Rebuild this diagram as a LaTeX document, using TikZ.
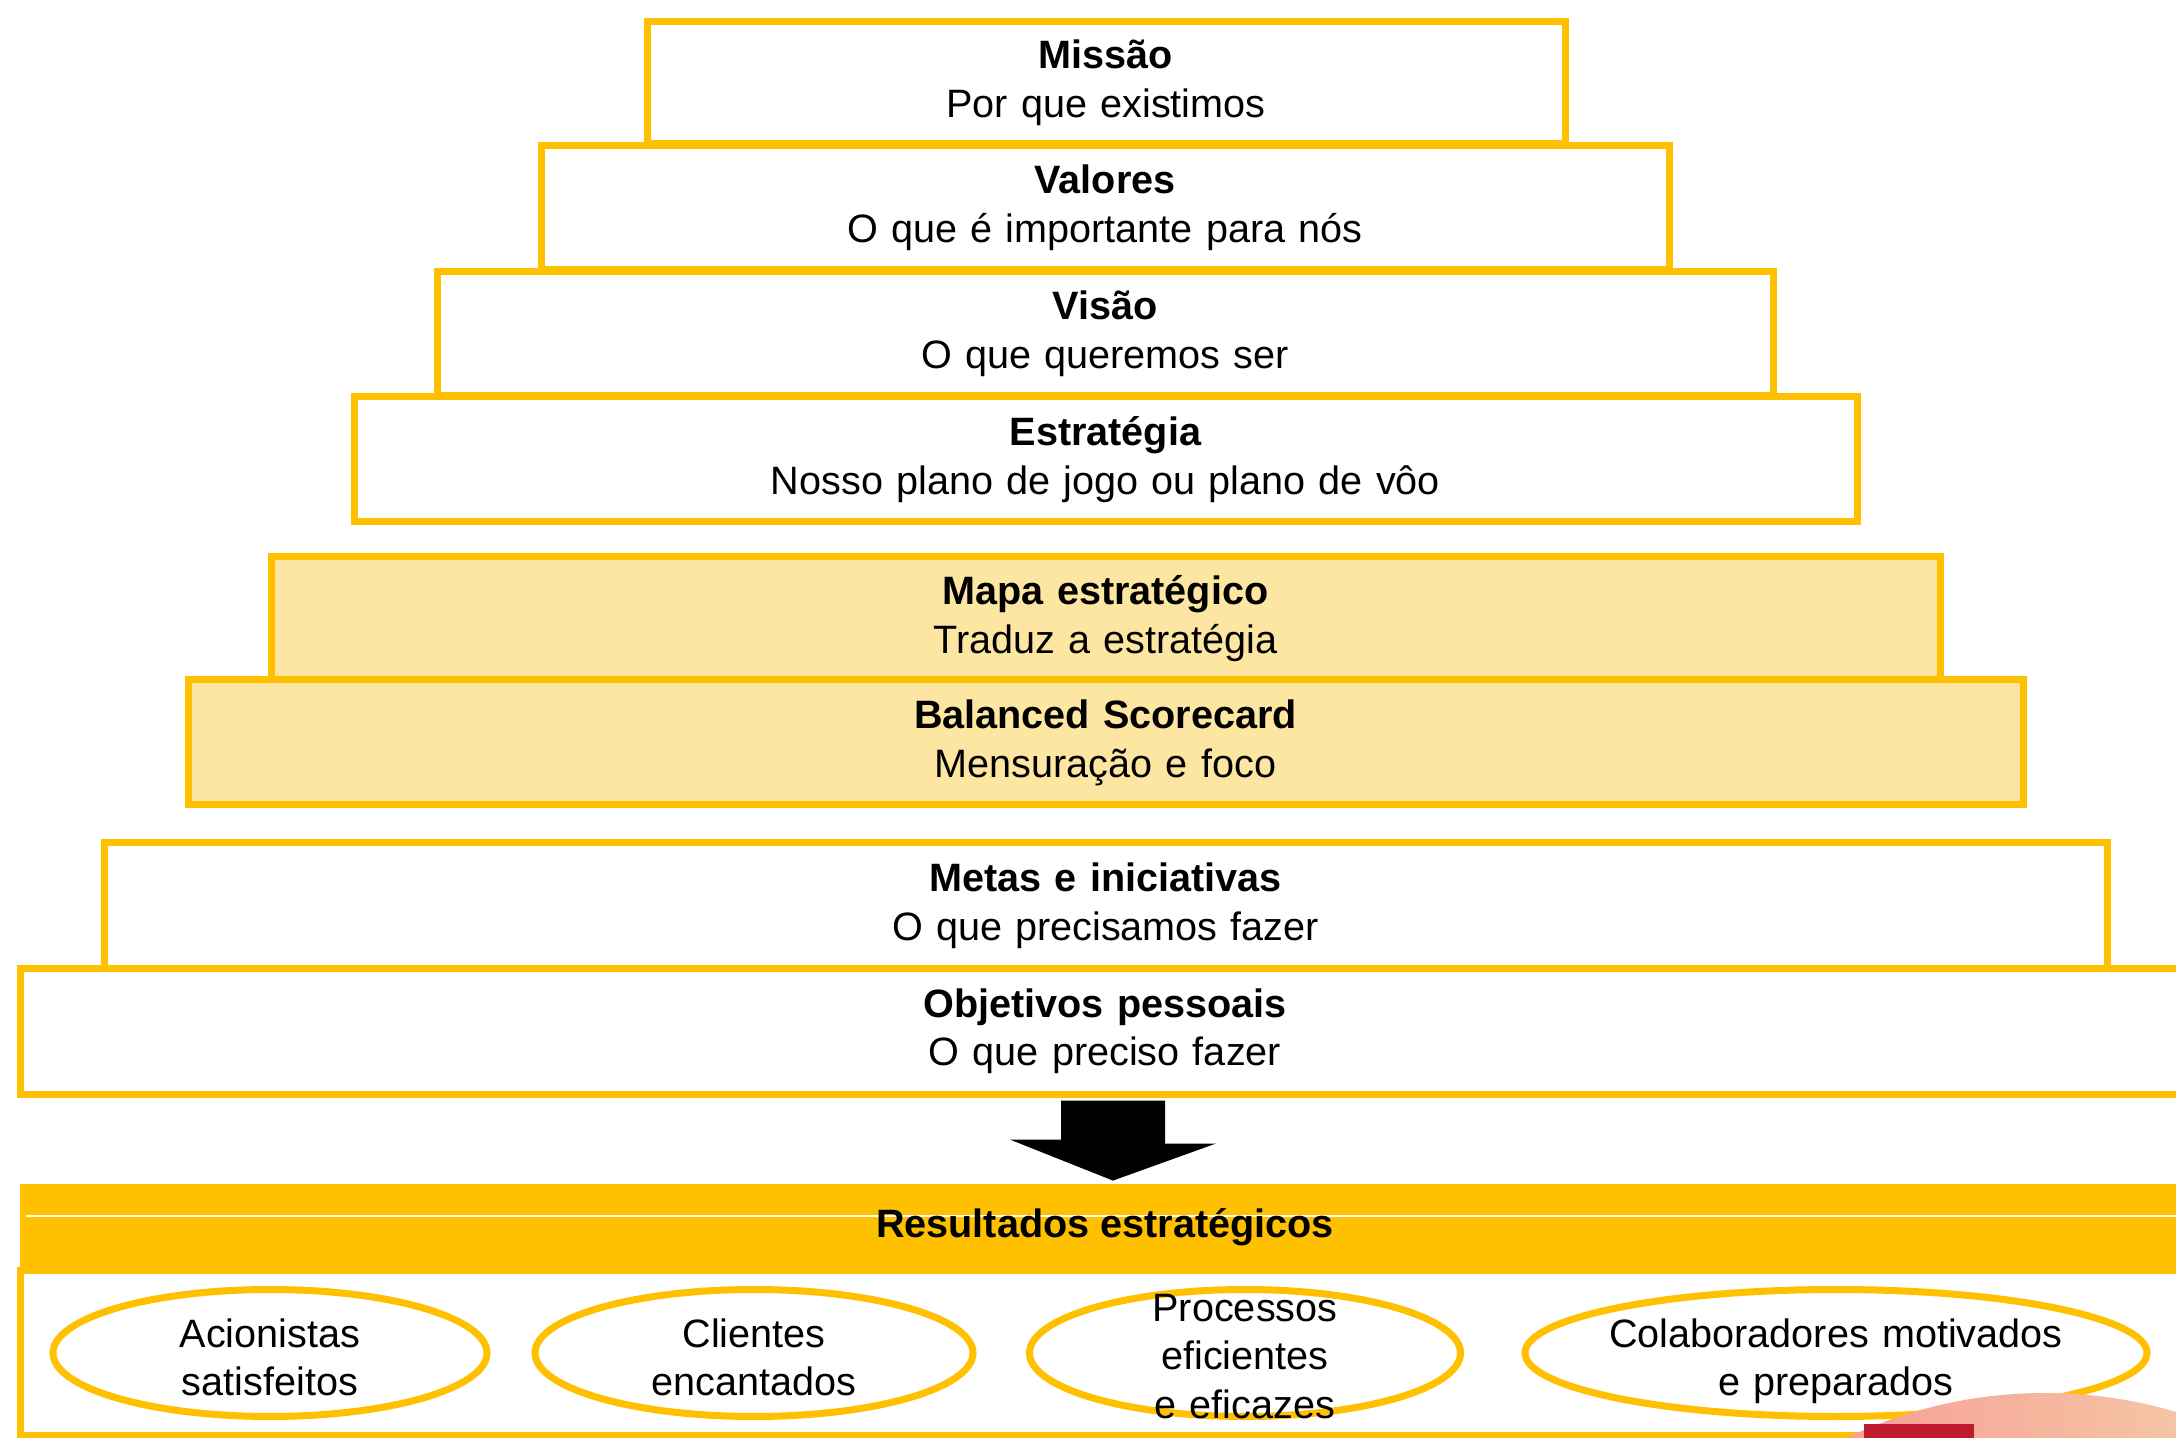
\documentclass[tikz,border=0pt]{standalone}
\usepackage{fontspec}
\setmainfont{Liberation Sans}
\usetikzlibrary{calc}
\definecolor{ygold}{HTML}{FFC000}
\definecolor{ylight}{HTML}{FDE6A1}
\definecolor{salmonA}{HTML}{F6A092}
\definecolor{peachB}{HTML}{F5C4A6}
\definecolor{redsq}{HTML}{BE1C2D}
\begin{document}
\begin{tikzpicture}[x=0.5pt,y=-0.5pt,
  font=\fontsize{19.8pt}{24.3pt}\selectfont,
  tier/.style={draw=ygold, line width=3.5pt, fill=white, inner sep=0pt,
    text width=400pt, align=center, text height=14pt, text depth=28pt},
  tierfill/.style={tier, fill=ylight},
  oval/.style={draw=ygold, line width=3.5pt},
  ovaltext/.style={inner sep=0pt, text width=250pt, align=center,
    text height=14pt, text depth=20pt},
]
\clip (0,0) rectangle (2176,1438);
\fill[white] (0,0) rectangle (2176,1438);

% pyramid tiers
\node[tier, minimum width=459pt, minimum height=61pt] (missao) at (1106,83)
  {\textbf{Missão}\\Por que existimos};
\node[tier, minimum width=564pt, minimum height=62pt] (valores) at (1105,208)
  {\textbf{Valores}\\O que é importante para nós};
\node[tier, minimum width=668pt, minimum height=62pt] (visao) at (1105,334)
  {\textbf{Visão}\\O que queremos ser};
\node[tier, minimum width=751.5pt, minimum height=62.5pt] (estrategia) at (1105.5,459.5)
  {\textbf{Estratégia}\\Nosso plano de jogo ou plano de vôo};
\node[tierfill, minimum width=834.5pt, minimum height=61.5pt] (mapa) at (1105.5,618.5)
  {\textbf{Mapa estratégico}\\Traduz a estratégia};
\node[tierfill, minimum width=917.5pt, minimum height=62.5pt] (bsc) at (1105.5,742.5)
  {\textbf{Balanced Scorecard}\\Mensuração e foco};
\node[tier, minimum width=1001.5pt, minimum height=62.5pt] (metas) at (1105.5,905.5)
  {\textbf{Metas e iniciativas}\\O que precisamos fazer};
\node[tier, minimum width=1085pt, minimum height=63pt] (objetivos) at (1105,1031)
  {\textbf{Objetivos pessoais}\\O que preciso fazer};

% results panel
\node[draw=ygold, line width=3.5pt, fill=white, inner sep=0pt,
  minimum width=1085pt, minimum height=82.5pt] (resbox) at (1105,1352.5) {};
\node[fill=ygold, inner sep=0pt, minimum width=1085pt, minimum height=43pt,
  text height=14pt, text depth=4pt, font=\fontsize{19.8pt}{24.3pt}\selectfont\bfseries,
  path picture={\draw[white, line width=1.2pt]
    ([yshift=-16pt,xshift=3pt]path picture bounding box.north west) --
    ([yshift=-16pt]path picture bounding box.north east);}]
  (hdr) at (1105,1227) {Resultados estratégicos};

% block arrow
\coordinate (atop) at ($(objetivos.south)+(8,3)$);
\coordinate (atip) at ($(hdr.north)+(8,-3)$);
\fill[black] (atop) ++(-52,0) -- ++(104,0) -- ++(0,43) -- ++(51,0) -- (atip)
  -- ++(-103,-41) -- ++(51,0) -- cycle;

% ellipses
\node[ovaltext] (acion) at (270,1353) {Acionistas\\satisfeitos};
\draw[oval] (acion.center) ellipse [x radius=108.5pt, y radius=31.75pt];
\node[ovaltext] (clientes) at (754,1353) {Clientes\\encantados};
\draw[oval] (clientes.center) ellipse [x radius=109.5pt, y radius=31.75pt];
\draw[oval] (1245,1353) ellipse [x radius=107.75pt, y radius=31.75pt];
\node[ovaltext, text depth=46pt] (processos) at (1245,1353) {Processos\\eficientes\\e eficazes};
\node[ovaltext] (colab) at (1836,1353) {Colaboradores motivados\\e preparados};
\draw[oval] (colab.center) ellipse [x radius=155.5pt, y radius=31.75pt];

% decorative corner
\begin{scope}
  \clip (2045,1853) circle [radius=460];
  \shade[left color=salmonA, right color=peachB] (1840,1380) rectangle (2176,1438);
\end{scope}
\fill[redsq] (1864,1424) rectangle (1974,1440);
\end{tikzpicture}
\end{document}
